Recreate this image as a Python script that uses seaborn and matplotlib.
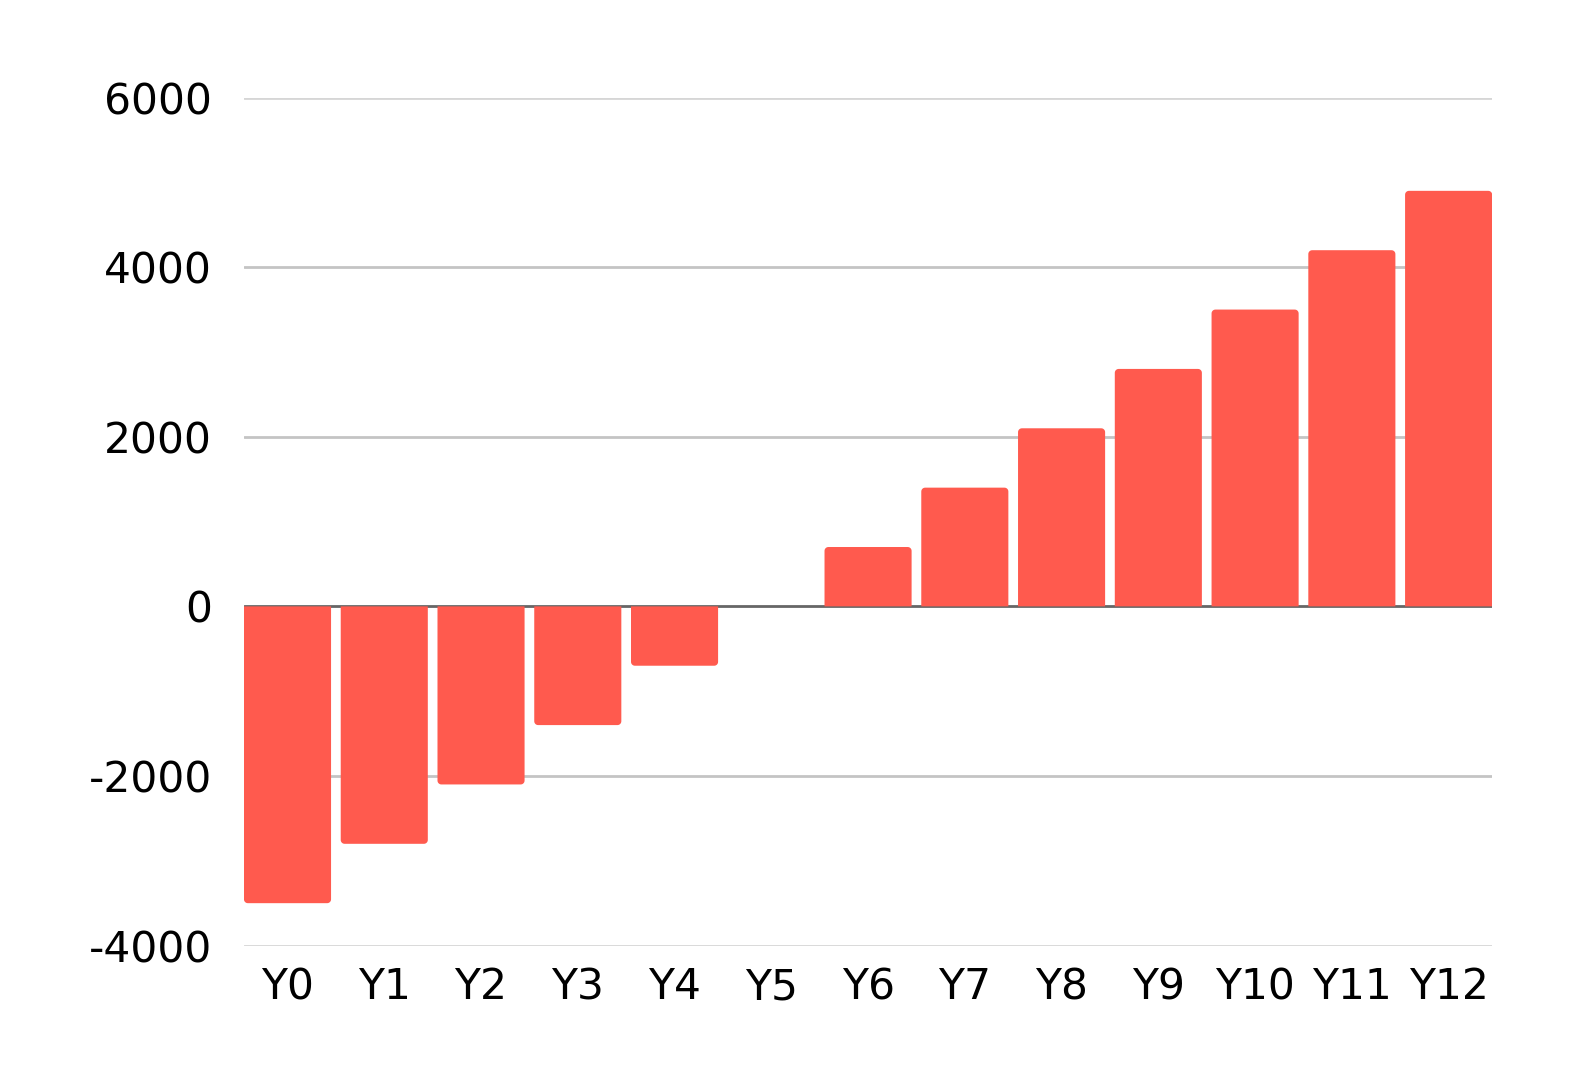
import numpy as np
import seaborn as sns
import pandas as pd
import matplotlib.pyplot as plt
from matplotlib.patches import Polygon

years = ['Y0', 'Y1', 'Y2', 'Y3', 'Y4', 'Y5', 'Y6', 'Y7', 'Y8', 'Y9', 'Y10', 'Y11', 'Y12']
values = [-3500, -2800, -2100, -1400, -700, 0, 700, 1400, 2100, 2800, 3500, 4200, 4900]
y_ticks = [-4000, -2000, 0, 2000, 4000, 6000]

bar_color = '#FF5A4E'

sns.set_theme(style='white')
plt.rcParams['font.family'] = ['DejaVu Sans']

df = pd.DataFrame({'year': years, 'value': values})


def rounded_bar(x0, w, h, rx, ry):
    # outline of a bar whose far end (away from zero) has rounded corners
    s = 1 if h > 0 else -1
    top = h - s * ry
    a = np.linspace(0, np.pi / 2, 8)
    right = [(x0 + w - rx + rx * np.cos(t), top + s * ry * np.sin(t)) for t in a]
    left = [(x0 + rx - rx * np.sin(t), top + s * ry * np.cos(t)) for t in a]
    return [(x0, 0), (x0 + w, 0)] + right + left


fig = plt.figure(figsize=(15.74, 10.84), dpi=100)
ax = fig.add_axes([0.155, 0.1277, 0.793, 0.7823])

sns.barplot(data=df, x='year', y='value', color=bar_color, width=0.9,
            saturation=1, ax=ax, zorder=3)

ax.set_xlim(-0.45, len(years) - 0.55)
ax.set_ylim(-4000, 6000)

rx = 0.04
ry = rx * 1130
for p in list(ax.patches):
    x0, w, h = p.get_x(), p.get_width(), p.get_height()
    p.remove()
    if abs(h) < 2 * ry:
        continue
    ax.add_patch(Polygon(rounded_bar(x0, w, h, rx, ry), closed=True,
                         fc=bar_color, ec='none', zorder=3))

for t in y_ticks:
    if t == 0:
        continue
    ax.axhline(t, color='#d6d6d6' if t in (6000, -4000) else '#c4c4c4', lw=2, zorder=1)
ax.axhline(0, color='#666666', lw=2, zorder=2)

ax.set_yticks(y_ticks)
ax.set_yticklabels([str(t) for t in y_ticks])
ax.tick_params(axis='y', length=0, pad=23, labelsize=30.5, labelcolor='black')
ax.tick_params(axis='x', length=0, pad=15, labelsize=30.5, labelcolor='black')
ax.set_xlabel('')
ax.set_ylabel('')
sns.despine(ax=ax, left=True, bottom=True)

fig.savefig('out.png', dpi=100, facecolor='white')
